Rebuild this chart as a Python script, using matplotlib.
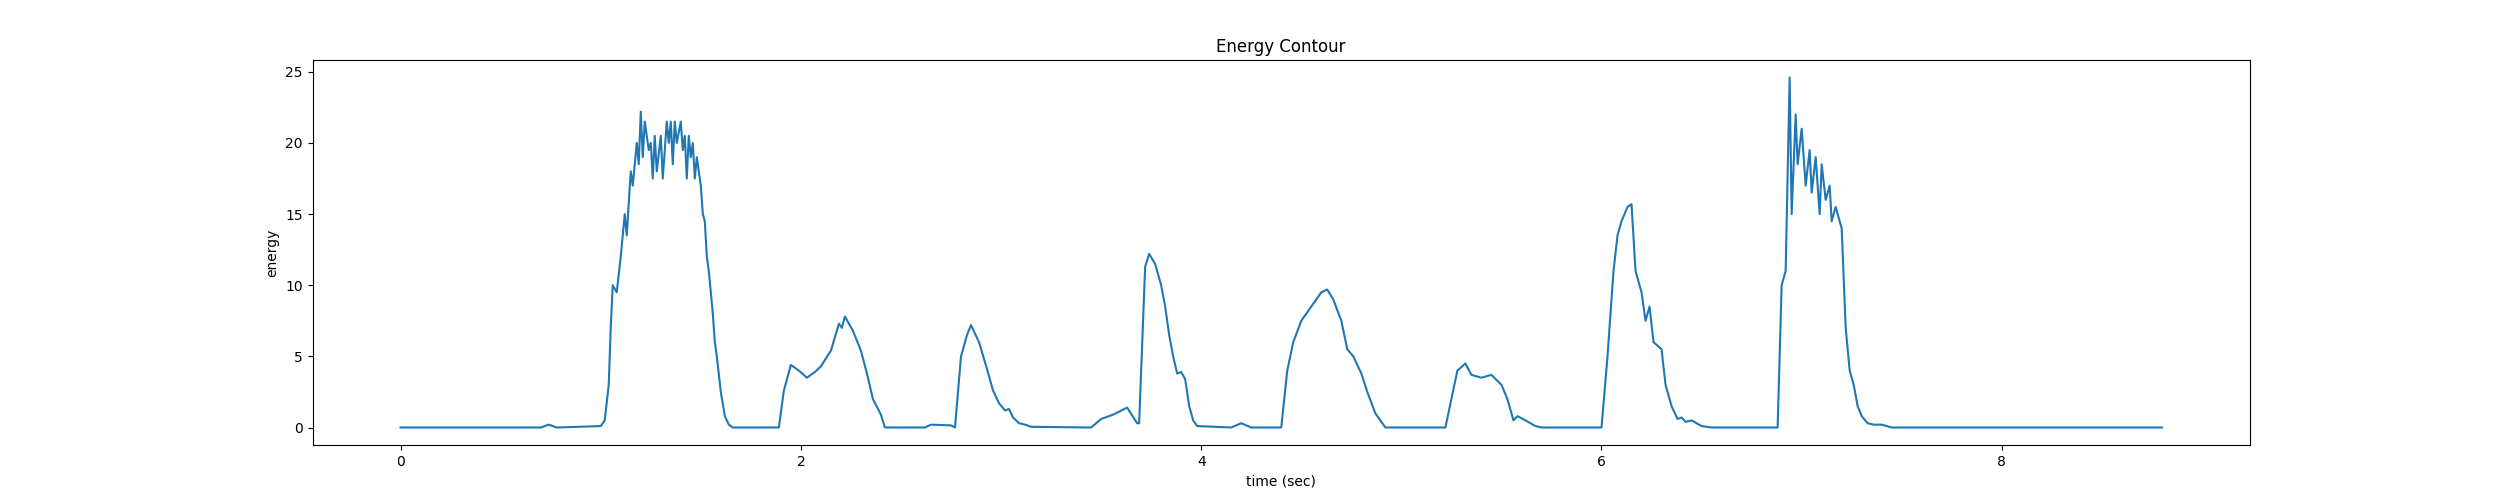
import matplotlib
matplotlib.use("Agg")
import matplotlib.pyplot as plt

time = [0.0, 0.70, 0.74, 0.78, 1.0, 1.02, 1.04, 1.05, 1.06, 1.08, 1.10, 1.12, 1.13, 1.15, 1.16, 1.18, 1.19, 1.20, 1.21, 1.22,
        1.24, 1.25, 1.26, 1.27, 1.28, 1.30, 1.31, 1.33, 1.34, 1.35, 1.36, 1.37, 1.38, 1.40, 1.41, 1.42, 1.43, 1.44, 1.45, 1.46,
        1.47, 1.48, 1.50, 1.51, 1.52, 1.53, 1.54, 1.55, 1.56, 1.57, 1.58, 1.60, 1.62, 1.64, 1.66,
        1.89, 1.915, 1.95, 1.99, 2.03, 2.07, 2.10, 2.15, 2.19, 2.205, 2.22, 2.26, 2.30, 2.33, 2.36, 2.40, 2.42,
        2.62, 2.65, 2.75, 2.77, 2.80, 2.83, 2.85, 2.87, 2.89, 2.93, 2.96, 2.99, 3.02, 3.04, 3.06, 3.09, 3.12, 3.15,
        3.45, 3.50, 3.56, 3.63, 3.68, 3.69, 3.72, 3.74, 3.77, 3.80, 3.82, 3.84, 3.86, 3.88, 3.90, 3.92, 3.94, 3.96, 3.98,
        4.15, 4.20, 4.25, 4.40, 4.43, 4.46, 4.50, 4.55, 4.60, 4.63, 4.66, 4.70, 4.73, 4.76, 4.80, 4.83, 4.87, 4.92,
        5.22, 5.25, 5.28, 5.32, 5.35, 5.40, 5.45, 5.50, 5.53, 5.56, 5.58, 5.62, 5.67, 5.70,
        6.00, 6.03, 6.06, 6.08, 6.10, 6.13, 6.15, 6.17, 6.20, 6.22, 6.24, 6.26, 6.30, 6.32, 6.35, 6.38, 6.40, 6.42, 6.45, 6.50, 6.55,
        6.88, 6.90, 6.92, 6.94, 6.95, 6.97, 6.98, 7.00, 7.02, 7.04, 7.05, 7.07, 7.09, 7.10, 7.12, 7.14, 7.15, 7.17, 7.20,
        7.22, 7.24, 7.26, 7.28, 7.30, 7.33, 7.36, 7.40, 7.45, 8.80]
energy = [0.0, 0.0, 0.2, 0.0, 0.1, 0.5, 3.0, 7.0, 10.0, 9.5, 12.0, 15.0, 13.5, 18.0, 17.0, 20.0, 18.5, 22.2, 19.0, 21.5,
          19.5, 20.0, 17.5, 20.5, 18.0, 20.5, 17.5, 21.5, 20.0, 21.5, 18.5, 21.5, 20.0, 21.5, 19.5, 20.5, 17.5, 20.5, 19.0, 20.0,
          17.5, 19.0, 17.0, 15.0, 14.5, 12.0, 11.0, 9.5, 8.0, 6.0, 5.0, 2.5, 0.8, 0.2, 0.0,
          0.0, 2.6, 4.4, 4.0, 3.5, 3.9, 4.3, 5.4, 7.3, 7.0, 7.8, 6.8, 5.4, 3.8, 2.0, 0.9, 0.0,
          0.0, 0.2, 0.15, 0.0, 5.0, 6.5, 7.2, 6.6, 6.0, 4.1, 2.6, 1.7, 1.2, 1.3, 0.7, 0.3, 0.2, 0.05,
          0.0, 0.6, 0.9, 1.4, 0.3, 0.3, 11.3, 12.2, 11.5, 10.0, 8.5, 6.5, 5.0, 3.8, 3.9, 3.4, 1.5, 0.5, 0.1,
          0.0, 0.3, 0.0, 0.0, 4.0, 6.0, 7.5, 8.5, 9.5, 9.7, 9.0, 7.5, 5.5, 5.0, 3.8, 2.5, 1.0, 0.0,
          0.0, 2.0, 4.0, 4.5, 3.7, 3.5, 3.7, 3.0, 2.0, 0.5, 0.8, 0.5, 0.1, 0.0,
          0.0, 5.0, 11.0, 13.5, 14.5, 15.5, 15.7, 11.0, 9.5, 7.5, 8.5, 6.0, 5.5, 3.0, 1.5, 0.6, 0.7, 0.4, 0.5, 0.1, 0.0,
          0.0, 10.0, 11.0, 24.6, 15.0, 22.0, 18.5, 21.0, 17.0, 19.5, 16.5, 19.0, 15.0, 18.5, 16.0, 17.0, 14.5, 15.5, 14.0,
          7.0, 4.0, 3.0, 1.5, 0.8, 0.3, 0.2, 0.2, 0.0, 0.0]

fig, ax = plt.subplots(figsize=(25, 5), dpi=100)
ax.plot(time, energy)
ax.set_title("Energy Contour")
ax.set_xlabel("time (sec)")
ax.set_ylabel("energy")
fig.savefig("out.png")
